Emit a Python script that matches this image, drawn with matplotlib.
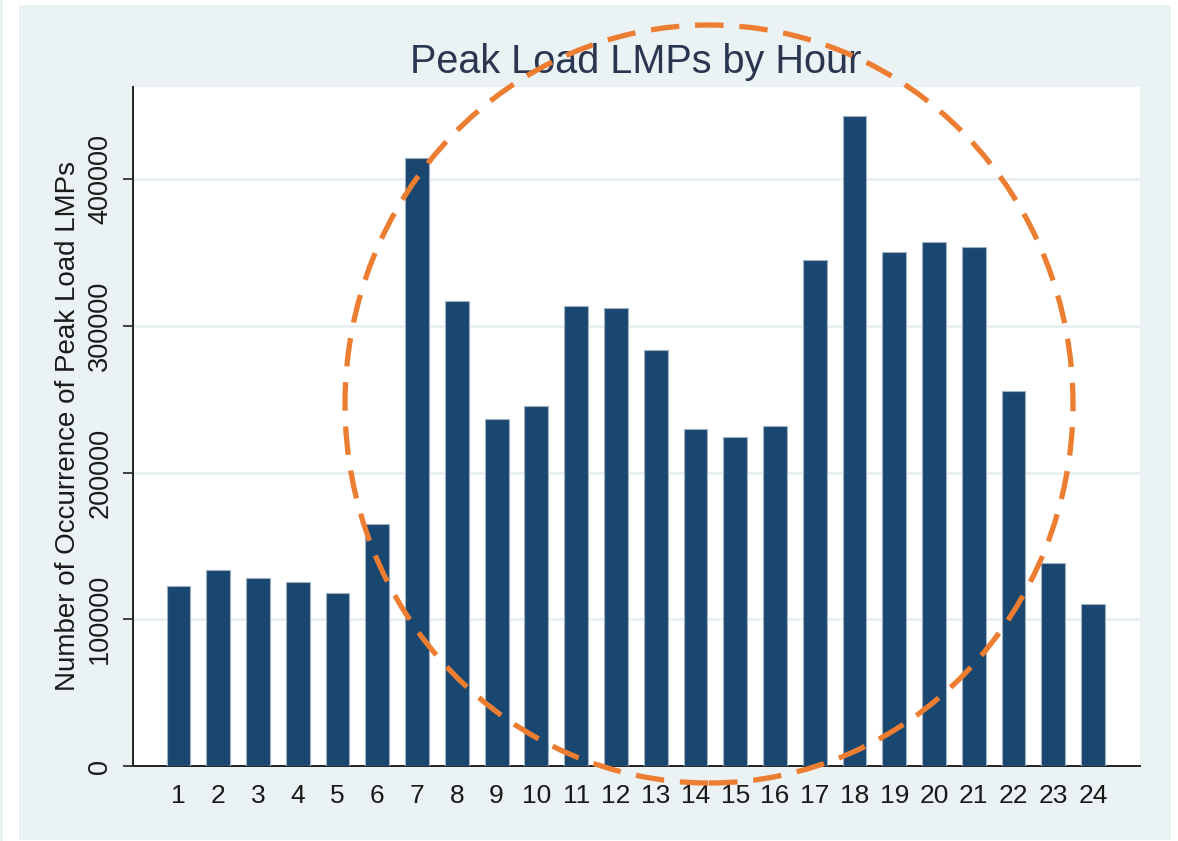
import matplotlib
matplotlib.use("Agg")
import matplotlib.pyplot as plt
from matplotlib.patches import Rectangle, Ellipse

# ---- data ----
hours = list(range(1, 25))
hour_labels = [str(h) for h in hours]
counts = [122900, 133600, 128400, 125200, 117900, 165000, 414700, 317000,
          236700, 245600, 313600, 312000, 284000, 229500, 224500, 231800,
          344900, 443100, 350400, 357200, 354000, 255800, 138600, 110600]
yticks = [0, 100000, 200000, 300000, 400000]
ytick_labels = ["0", "100000", "200000", "300000", "400000"]
title = "Peak Load LMPs by Hour"
ylabel = "Number of Occurrence of Peak Load LMPs"

W, H = 1178, 841
plt.rcParams['font.family'] = ['Liberation Sans', 'DejaVu Sans']

fig = plt.figure(figsize=(W / 100, H / 100), dpi=100, facecolor="white")

def fx(px):
    return px / W

def fy(py):
    return 1 - py / H

# outer panel background
fig.add_artist(Rectangle((fx(19), fy(840)), fx(1171) - fx(19), fy(5) - fy(840),
                         transform=fig.transFigure, facecolor="#eaf2f3",
                         edgecolor="none", zorder=0))
fig.add_artist(Rectangle((0, 0), fx(3), 1, transform=fig.transFigure,
                         facecolor="#eaf2f3", edgecolor="none", zorder=0))

left, right, top, bottom = 133, 1140, 87, 766
ax = fig.add_axes([fx(left), fy(bottom), fx(right) - fx(left), fy(top) - fy(bottom)])
ax.set_facecolor("white")

ax.bar(hours, counts, width=0.6, color="#1a476f", edgecolor="#9fb2c4",
       linewidth=0.8, zorder=3)

ax.set_xlim(-0.144, 25.18)
ax.set_ylim(0, 463000)

ax.set_xticks(hours)
ax.set_xticklabels(hour_labels, fontsize=19, color="#1a1a1a")
ax.set_yticks(yticks)
ax.set_yticklabels(ytick_labels, fontsize=19.5, color="#1a1a1a", rotation=90,
                   va="center")
ax.tick_params(axis="x", length=0, pad=13)
ax.tick_params(axis="y", length=7.2, width=1.2, pad=7, color="#222222")

ax.grid(axis="y", color="#e6eef0", linewidth=1.8, zorder=0)
ax.set_axisbelow(True)

for s in ["top", "right"]:
    ax.spines[s].set_visible(False)
for s in ["left", "bottom"]:
    ax.spines[s].set_color("#222222")
    ax.spines[s].set_linewidth(1.4)

fig.text(fx(68), fy(426), ylabel, rotation=90, ha="center", va="center",
         fontsize=20, color="#1a1a1a")
fig.text(fx(636), fy(73), title, ha="center", va="baseline", fontsize=28.5,
         color="#2a3650")

# orange dashed annotation ellipse
fig.add_artist(Ellipse((fx(709), fy(404)), fx(728), 758 / H,
                       transform=fig.transFigure, fill=False,
                       edgecolor="#ED7D31", linewidth=3.8,
                       linestyle=(0, (5.4, 3.0)), zorder=10))

fig.savefig("out.png", dpi=100, facecolor="white")
